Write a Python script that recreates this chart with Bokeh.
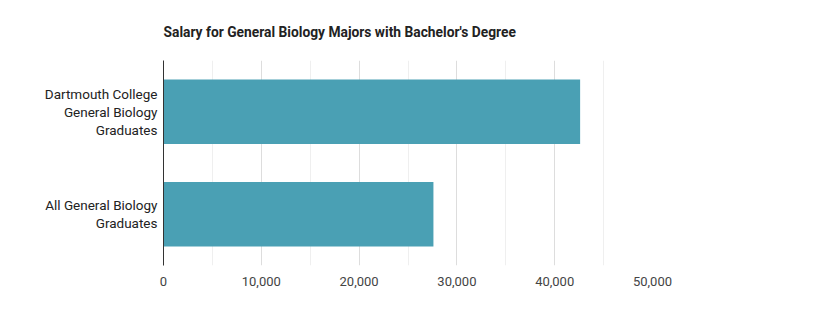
from bokeh.plotting import figure
from bokeh.embed import file_html
from bokeh.resources import INLINE
from bokeh.models import FixedTicker, NumeralTickFormatter, Range1d, FactorRange

categories = ["All General Biology\nGraduates", "Dartmouth College\nGeneral Biology\nGraduates"]
salaries = [27600, 42600]
x_ticks = [0, 10000, 20000, 30000, 40000, 50000]
title_text = "Salary for General Biology Majors with Bachelor's Degree"

FONT = "Roboto"

p = figure(width=814, height=313, output_backend="svg", toolbar_location=None,
           y_range=FactorRange(*categories, range_padding=0), x_range=Range1d(0, 50000),
           title=title_text, min_border_left=163, min_border_right=162,
           min_border_top=60, min_border_bottom=48)

p.hbar(y=categories, right=salaries, height=0.63, color="#4aa0b4", line_color=None)

p.outline_line_color = None
p.background_fill_color = "white"
p.border_fill_color = "white"

p.title.text_font = FONT
p.title.text_font_size = "13.8px"
p.title.text_font_style = "bold"
p.title.text_color = "#222222"
p.title.standoff = 41
p.title.offset = 0

# x axis
p.xaxis.ticker = FixedTicker(ticks=x_ticks, minor_ticks=[5000, 15000, 25000, 35000, 45000])
p.xaxis.formatter = NumeralTickFormatter(format="0,0")
p.xaxis.axis_line_color = None
p.xaxis.major_tick_line_color = None
p.xaxis.minor_tick_line_color = None
p.xaxis.major_label_text_font = FONT
p.xaxis.major_label_text_font_size = "13px"
p.xaxis.major_label_text_color = "#444444"
p.xaxis.major_label_standoff = 5

# y axis
p.yaxis.axis_line_color = "#333333"
p.yaxis.axis_line_width = 1
p.yaxis.major_tick_line_color = None
p.yaxis.minor_tick_line_color = None
p.yaxis.major_label_text_font = FONT
p.yaxis.major_label_text_font_size = "13.5px"
p.yaxis.major_label_text_color = "#222222"
p.yaxis.major_label_standoff = 0
p.yaxis.major_label_text_line_height = 1.12

# grids
p.xgrid.grid_line_color = "#dddddd"
p.xgrid.minor_grid_line_color = "#efefef"
p.ygrid.grid_line_color = None

open("out.html", "w").write(file_html(p, INLINE))
